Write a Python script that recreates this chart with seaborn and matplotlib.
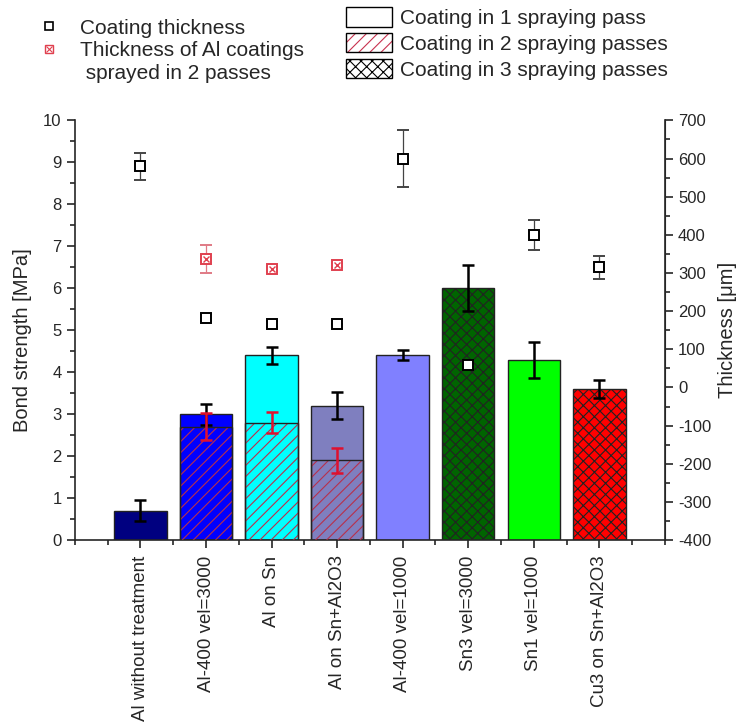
import numpy as np
import pandas as pd
import seaborn as sns
import matplotlib.pyplot as plt
from matplotlib.lines import Line2D
from matplotlib.patches import Patch
from matplotlib.ticker import MultipleLocator

categories = ["Al without treatment", "Al-400 vel=3000", "Al on Sn", "Al on Sn+Al2O3",
              "Al-400 vel=1000", "Sn3 vel=3000", "Sn1 vel=1000", "Cu3 on Sn+Al2O3"]
bond = [0.7, 3.0, 4.4, 3.2, 4.4, 6.0, 4.3, 3.6]
bond_err = [0.25, 0.25, 0.2, 0.32, 0.12, 0.55, 0.43, 0.22]
bar_colors = ["#000080", "#0000ff", "#00ffff", "#7f7fbf", "#8080ff", "#006400", "#00ff00", "#ff0000"]
passes = [1, 2, 2, 2, 1, 3, 1, 3]

# strength of the part sprayed in 2 passes (inner hatched bars)
inner_cats = ["Al-400 vel=3000", "Al on Sn", "Al on Sn+Al2O3"]
inner_bond = [2.7, 2.8, 1.9]
inner_err = [0.32, 0.25, 0.3]

# coating thickness [um], right axis
thick = [580, 183, 166, 166, 600, 60, 400, 315]
thick_err = [35, 10, 8, 0, 75, 5, 40, 30]
thick2 = [337, 310, 320]
thick2_err = [37, 6, 5]

sns.set_style("ticks")
plt.rcParams["font.family"] = ["Liberation Sans", "DejaVu Sans"]
plt.rcParams["hatch.linewidth"] = 0.8
plt.rcParams["axes.unicode_minus"] = False

fig, ax = plt.subplots(figsize=(7.42, 7.25), dpi=100)
fig.subplots_adjust(left=0.101, right=0.896, bottom=0.255, top=0.834)

df = pd.DataFrame({"cat": categories, "bond": bond})
sns.barplot(data=df, x="cat", y="bond", hue="cat", palette=bar_colors, legend=False,
            order=categories, width=0.8, saturation=1, edgecolor="#222222", linewidth=1,
            ax=ax, zorder=2)
for p, n in zip(ax.patches, passes):
    if n == 3:
        p.set_hatch("xxx")

# inner hatched bars: red hatch layer + black outline layer
df_in = pd.DataFrame({"cat": inner_cats, "bond": inner_bond})
n0 = len(ax.patches)
sns.barplot(data=df_in, x="cat", y="bond", order=categories, width=0.8,
            fill=False, ax=ax, zorder=3)
for p in ax.patches[n0:]:
    p.set_hatch("///")
    p.set_edgecolor("#b8304c")
    p.set_linewidth(0)
n1 = len(ax.patches)
sns.barplot(data=df_in, x="cat", y="bond", order=categories, width=0.8,
            fill=False, ax=ax, zorder=4)
for p in ax.patches[n1:]:
    p.set_edgecolor("#222222")
    p.set_linewidth(1)

xpos = np.arange(len(categories))
inner_x = [categories.index(c) for c in inner_cats]
ax.errorbar(xpos, bond, yerr=bond_err, fmt="none", ecolor="black", elinewidth=1.8,
            capsize=4, capthick=1.8, zorder=6)
ax.errorbar(inner_x, inner_bond, yerr=inner_err, fmt="none", ecolor="#e0102e", elinewidth=1.8,
            capsize=4, capthick=1.8, zorder=6)

ax.set_xlim(-1, 8)
ax.set_ylim(0, 10)
ax.yaxis.set_major_locator(MultipleLocator(1))
ax.yaxis.set_minor_locator(MultipleLocator(0.5))
ax.xaxis.set_minor_locator(MultipleLocator(0.5))
ax.set_xticks(xpos)
ax.set_xticklabels(categories, rotation=90, fontsize=13.5)
ax.tick_params(axis="y", labelsize=12, length=6, width=1.2, direction="out")
ax.tick_params(axis="x", length=6, width=1.2, direction="out", pad=5)
ax.tick_params(which="minor", length=3.5, width=1.2)
ax.set_xlabel("")
ax.set_ylabel("Bond strength [MPa]", fontsize=14.5)
ax.yaxis.set_label_coords(-0.072, 0.476)
for s in ["left", "bottom"]:
    ax.spines[s].set_linewidth(1.2)
ax.spines["top"].set_visible(False)

ax2 = ax.twinx()
ax2.set_ylim(-400, 700)
ax2.yaxis.set_major_locator(MultipleLocator(100))
ax2.yaxis.set_minor_locator(MultipleLocator(50))
ax2.tick_params(axis="y", labelsize=12, length=6, width=1.2, direction="out")
ax2.tick_params(which="minor", length=3.5, width=1.2)
ax2.spines["right"].set_linewidth(1.2)
ax2.spines["top"].set_visible(False)
ax2.spines["left"].set_visible(False)
ax2.spines["bottom"].set_visible(False)
ax2.set_ylabel("Thickness [\u03bcm]", fontsize=14.5, labelpad=5)

ax2.errorbar(xpos, thick, yerr=thick_err, fmt="s", ms=7.5, mfc="white", mec="black", mew=1.4,
             ecolor="#444444", elinewidth=0.9, capsize=4, capthick=0.9, zorder=5)
ax2.errorbar(inner_x, thick2, yerr=thick2_err, fmt="s", ms=7.5, mfc="white", mec="#e0404f", mew=1.4,
             ecolor="#e07a85", elinewidth=0.9, capsize=4, capthick=0.9, zorder=5)
ax2.plot(inner_x, thick2, "x", ms=5, mec="#e0404f", mew=1.0, zorder=6)

h1 = Line2D([], [], ls="none", marker="s", ms=6, mfc="white", mec="black", mew=1.2)
h2a = Line2D([], [], ls="none", marker="s", ms=6, mfc="white", mec="#e0404f", mew=1.0)
h2b = Line2D([], [], ls="none", marker="x", ms=4, mec="#e0404f", mew=0.8)
h3 = Line2D([], [], ls="none")
fig.legend([h1, (h2a, h2b), h3],
           ["Coating thickness", "Thickness of Al coatings", " sprayed in 2 passes"],
           loc="upper left", bbox_to_anchor=(0.027, 1.0), frameon=False, fontsize=15,
           handlelength=1.0, handletextpad=1.0, labelspacing=0.17)

p1 = Patch(facecolor="white", edgecolor="black", lw=1)
p2a = Patch(facecolor="white", edgecolor="#c8324f", hatch="///", lw=0)
p2b = Patch(facecolor="none", edgecolor="black", lw=1)
p3 = Patch(facecolor="white", edgecolor="black", hatch="xxx", lw=1)
fig.legend([p1, (p2a, p2b), p3],
           ["Coating in 1 spraying pass", "Coating in 2 spraying passes", "Coating in 3 spraying passes"],
           loc="upper left", bbox_to_anchor=(0.446, 1.01), frameon=False, fontsize=15,
           handlelength=2.25, handleheight=1.05, handletextpad=0.35, labelspacing=0.24,
           borderaxespad=0.3)

fig.savefig("out.png", dpi=100)
